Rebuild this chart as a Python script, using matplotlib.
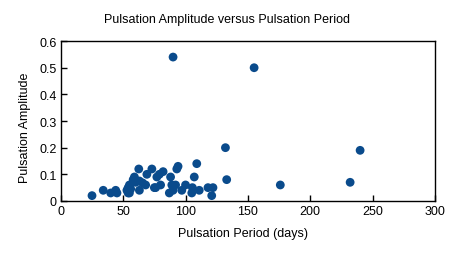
import matplotlib.pyplot as plt

period = [25, 34, 40, 44, 45, 53, 54, 54, 55, 55, 56, 58, 59, 60, 62.5, 63, 63,
          65.5, 68, 69, 73, 75, 76, 77, 79, 80, 82, 87, 88, 89, 90, 90, 92, 93,
          94, 97, 100, 105, 105.5, 107, 109, 111, 118, 121, 122, 132, 133, 155,
          176, 232, 240]
amplitude = [0.02, 0.04, 0.03, 0.04, 0.03, 0.04, 0.03, 0.05, 0.06, 0.03, 0.045,
             0.08, 0.09, 0.07, 0.12, 0.04, 0.075, 0.068, 0.06, 0.10, 0.12, 0.05,
             0.05, 0.09, 0.10, 0.06, 0.11, 0.03, 0.09, 0.06, 0.04, 0.54, 0.06,
             0.12, 0.13, 0.04, 0.06, 0.03, 0.05, 0.09, 0.14, 0.04, 0.05, 0.02,
             0.05, 0.20, 0.08, 0.50, 0.06, 0.07, 0.19]

plt.rcParams['font.family'] = ['Liberation Sans', 'DejaVu Sans']

fig = plt.figure(figsize=(4.54, 2.55), dpi=100)
ax = fig.add_axes([0.134, 0.208, 0.824, 0.627])
ax.scatter(period, amplitude, s=40, color='#0a4b8c', edgecolors='none', zorder=3)

ax.set_xlim(0, 300)
ax.set_ylim(0, 0.6)
ax.set_xticks([0, 50, 100, 150, 200, 250, 300])
ax.set_yticks([0, 0.1, 0.2, 0.3, 0.4, 0.5, 0.6])
ax.set_yticklabels(['0', '0.1', '0.2', '0.3', '0.4', '0.5', '0.6'])
ax.tick_params(direction='in', length=4, width=1, labelsize=9, pad=3)
for sp in ax.spines.values():
    sp.set_linewidth(1.0)

# title is centred on the figure, not the axes
fig.text(0.5, 0.92, 'Pulsation Amplitude versus Pulsation Period',
         fontsize=9, ha='center', va='center')
ax.set_xlabel('Pulsation Period (days)', fontsize=9)
ax.set_ylabel('Pulsation Amplitude', fontsize=9)
ax.xaxis.set_label_coords(0.487, -0.16)
ax.yaxis.set_label_coords(-0.081, 0.466)

fig.savefig('out.png', dpi=100)
